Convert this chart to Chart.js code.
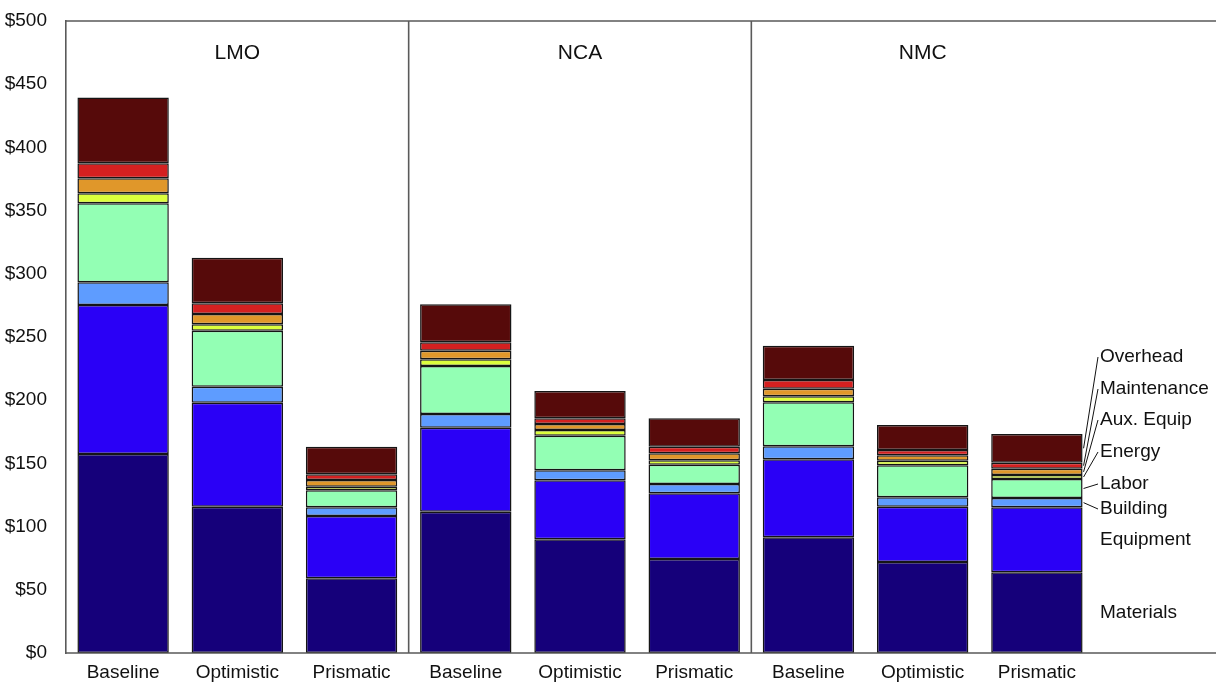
<!DOCTYPE html>
<html>
<head>
<meta charset="utf-8">
<script src="https://cdn.jsdelivr.net/npm/chart.js@4/dist/chart.umd.min.js"></script>
<style>
  html, body { margin: 0; padding: 0; background: #ffffff; }
  #wrap { width: 1216px; height: 683px; }
</style>
</head>
<body>
<div id="wrap"><canvas id="c" width="1216" height="683"></canvas></div>
<script>
// ---- Data ----
const categories = ["Baseline", "Optimistic", "Prismatic", "Baseline", "Optimistic", "Prismatic", "Baseline", "Optimistic", "Prismatic"];
const groups = ["LMO", "NCA", "NMC"];
const yTicks = [0, 50, 100, 150, 200, 250, 300, 350, 400, 450, 500];

const materials   = [157.4, 115.7, 59.1, 111.8, 90.0, 74.4, 91.5, 72.0, 63.8];
const equipment   = [117.9, 82.3, 49.3, 66.5, 46.6, 51.9, 61.7, 43.7, 51.5];
const building    = [18.0, 12.7, 6.9, 10.8, 7.9, 7.4, 10.3, 7.5, 7.3];
const labor       = [62.5, 44.3, 13.4, 38.0, 27.4, 15.3, 34.8, 25.3, 15.1];
const energy      = [7.9, 5.0, 2.9, 5.3, 4.5, 3.5, 4.8, 3.6, 3.1];
const auxEquip    = [11.9, 8.2, 5.3, 6.8, 4.8, 5.5, 6.0, 4.3, 5.0];
const maintenance = [11.8, 8.5, 4.5, 6.6, 4.5, 5.2, 6.9, 4.2, 4.8];
const overhead    = [52.1, 36.0, 21.8, 30.1, 21.6, 22.5, 27.1, 19.8, 22.7];

const seriesNames = ["Materials", "Equipment", "Building", "Labor", "Energy", "Aux. Equip", "Maintenance", "Overhead"];
const seriesData = [materials, equipment, building, labor, energy, auxEquip, maintenance, overhead];
const seriesColors = ["#15007a", "#2a00f6", "#5e9cff", "#93ffb4", "#dcff3c", "#e0972a", "#d42020", "#560a0a"];

// callout label layout (pixel y for labels that use leader lines; null = centered on segment)
const calloutY = [null, null, 509, 484, 452, 420, 389, 357];

const FONT = "'Liberation Sans', Arial, Helvetica, sans-serif";

const overlay = {
  id: 'overlay',
  afterDatasetsDraw(chart) {
    const ctx = chart.ctx;
    const area = chart.chartArea;
    const xs = chart.scales.x;
    const W = chart.width;
    ctx.save();
    // frame lines
    ctx.strokeStyle = '#5a5a5a';
    ctx.lineWidth = 1.6;
    ctx.beginPath();
    ctx.moveTo(area.left, area.top); ctx.lineTo(W, area.top);
    ctx.moveTo(area.left, area.bottom); ctx.lineTo(W, area.bottom);
    for (let g = 1; g < groups.length; g++) {
      const xa = xs.getPixelForValue(g * 3 - 1);
      const xb = xs.getPixelForValue(g * 3);
      const xm = (xa + xb) / 2;
      ctx.moveTo(xm, area.top); ctx.lineTo(xm, area.bottom);
    }
    ctx.stroke();
    // group labels
    ctx.fillStyle = '#111';
    ctx.font = '21px ' + FONT;
    ctx.textAlign = 'center';
    ctx.textBaseline = 'middle';
    groups.forEach((g, i) => {
      ctx.fillText(g, xs.getPixelForValue(i * 3 + 1), 53);
    });
    // callouts
    const last = categories.length - 1;
    ctx.font = '19px ' + FONT;
    ctx.textAlign = 'left';
    ctx.strokeStyle = '#111';
    ctx.lineWidth = 1;
    const textX = 1100;
    seriesNames.forEach((name, i) => {
      const el = chart.getDatasetMeta(i).data[last];
      const midY = (el.y + el.base) / 2;
      const right = el.x + el.width / 2;
      let ly = calloutY[i];
      if (ly === null) {
        ly = midY;
      } else {
        ctx.beginPath();
        ctx.moveTo(right + 1, midY);
        ctx.lineTo(textX - 2, ly);
        ctx.stroke();
      }
      ctx.fillText(name, textX, ly);
    });
    ctx.restore();
  }
};

new Chart(document.getElementById('c'), {
  type: 'bar',
  data: {
    labels: categories,
    datasets: seriesNames.map((n, i) => ({
      label: n,
      data: seriesData[i],
      backgroundColor: seriesColors[i],
      borderColor: '#151515',
      borderWidth: 1.5,
      borderSkipped: false,
      barPercentage: 0.8,
      categoryPercentage: 1.0
    }))
  },
  options: {
    responsive: false,
    animation: false,
    devicePixelRatio: 1,
    layout: { padding: { top: 21, right: 122, left: 0, bottom: 0 } },
    plugins: { legend: { display: false }, tooltip: { enabled: false } },
    scales: {
      x: {
        stacked: true,
        grid: { display: false, drawTicks: false },
        border: { display: false },
        ticks: { color: '#111', font: { family: FONT, size: 19 }, padding: 8, maxRotation: 0, autoSkip: false },
        afterFit(s) { s.height = 30; s.paddingLeft = 0; s.paddingRight = 0; }
      },
      y: {
        stacked: true,
        min: 0, max: 500,
        afterBuildTicks(s) { s.ticks = yTicks.map(v => ({ value: v })); },
        grid: { display: false, drawTicks: false },
        border: { display: true, color: '#5a5a5a', width: 1.6 },
        ticks: { color: '#111', font: { family: FONT, size: 19 }, padding: 19, callback: v => '$' + v },
        afterFit(s) { s.width = 66; s.paddingTop = 0; s.paddingBottom = 0; }
      }
    }
  },
  plugins: [overlay]
});
</script>
</body>
</html>
